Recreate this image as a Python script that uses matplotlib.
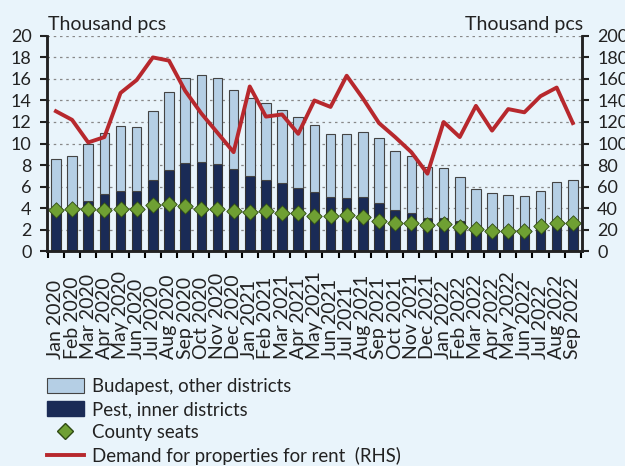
import numpy as np
import matplotlib.pyplot as plt
import matplotlib.transforms as mtransforms
from matplotlib.patches import Patch
from matplotlib.lines import Line2D

plt.rcParams['font.family'] = ['Lato', 'DejaVu Sans']

months = ['Jan 2020', 'Feb 2020', 'Mar 2020', 'Apr 2020', 'May 2020', 'Jun 2020',
          'Jul 2020', 'Aug 2020', 'Sep 2020', 'Oct 2020', 'Nov 2020', 'Dec 2020',
          'Jan 2021', 'Feb 2021', 'Mar 2021', 'Apr 2021', 'May 2021', 'Jun 2021',
          'Jul 2021', 'Aug 2021', 'Sep 2021', 'Oct 2021', 'Nov 2021', 'Dec 2021',
          'Jan 2022', 'Feb 2022', 'Mar 2022', 'Apr 2022', 'May 2022', 'Jun 2022',
          'Jul 2022', 'Aug 2022', 'Sep 2022']

# totals of the stacked bars (thousand pcs)
total = [8.6, 8.8, 10.0, 11.0, 11.6, 11.5, 13.0, 14.8, 16.1, 16.4, 16.1, 15.0,
         14.2, 13.8, 13.1, 12.5, 11.7, 10.9, 10.9, 11.1, 10.5, 9.3, 8.8, 7.8,
         7.7, 6.9, 5.8, 5.4, 5.2, 5.1, 5.6, 6.4, 6.6]
inner = [3.8, 3.9, 4.7, 5.3, 5.6, 5.6, 6.6, 7.5, 8.2, 8.3, 8.1, 7.6,
         7.0, 6.6, 6.3, 5.9, 5.5, 5.0, 4.9, 5.0, 4.5, 3.8, 3.5, 3.1,
         3.1, 2.8, 2.3, 2.0, 1.9, 1.9, 2.2, 2.5, 2.6]
county = [3.8, 3.9, 3.9, 3.8, 3.9, 3.9, 4.3, 4.4, 4.2, 3.9, 3.9, 3.7,
          3.6, 3.7, 3.5, 3.5, 3.3, 3.3, 3.4, 3.2, 2.8, 2.6, 2.6, 2.4,
          2.5, 2.2, 2.1, 1.9, 1.9, 1.9, 2.3, 2.6, 2.6]
demand = [130, 122, 101, 106, 147, 159, 180, 177, 149, 128, 110, 92,
          153, 125, 127, 109, 140, 134, 163, 142, 119, 106, 92, 72,
          120, 106, 135, 112, 132, 129, 144, 152, 119]

bg = '#e9f4fb'
light = '#b5cfe5'
dark = '#1a2b56'
green = '#6fa033'
red = '#b7282d'
txt = '#222222'

other = np.array(total) - np.array(inner)
x = np.arange(len(months))

fig = plt.figure(figsize=(6.25, 4.66), dpi=100, facecolor=bg)
ax = fig.add_axes([0.075, 0.461, 0.856, 0.462], facecolor=bg)
ax2 = ax.twinx()
ax2.patch.set_visible(False)

ax.bar(x, inner, width=0.59, color=dark, edgecolor='#333333', linewidth=0.8, zorder=2)
ax.bar(x, other, bottom=inner, width=0.59, color=light, edgecolor='#444444', linewidth=0.8, zorder=2)
ax.scatter(x, county, marker='D', s=62, color=green, edgecolor='#2f4a14', linewidth=0.6, zorder=4)
ax2.plot(x, demand, color=red, lw=2.8, zorder=5)

ax.set_xlim(-0.56, len(months) - 0.44)
ax.set_ylim(0, 20)
ax2.set_ylim(0, 200)
ax.set_yticks(np.arange(0, 21, 2))
ax2.set_yticks(np.arange(0, 201, 20))
ax.yaxis.grid(True, linestyle=(0, (2, 3)), color='#888888', linewidth=0.9, zorder=0)
ax.set_axisbelow(True)

# month labels: rotated, aligned at their start (bottom)
ax.set_xticks(np.arange(-0.5, len(months), 1))
ax.set_xticklabels([])
ax.tick_params(axis='x', length=5, width=1.5, direction='out')
trans = mtransforms.blended_transform_factory(ax.transData, ax.transAxes)
for i, m in enumerate(months):
    ax.text(i, -0.50, m, rotation=90, ha='center', va='bottom', fontsize=14,
            color=txt, transform=trans)

ax.tick_params(axis='y', labelsize=13, length=5, width=1.5, colors=txt, pad=6)
ax2.tick_params(axis='y', labelsize=13, length=5, width=1.5, colors=txt, pad=6)

for a in (ax, ax2):
    a.spines['top'].set_visible(False)
    for s in ('left', 'right', 'bottom'):
        a.spines[s].set_linewidth(1.8)
        a.spines[s].set_color(txt)

fig.text(0.077, 0.947, 'Thousand pcs', fontsize=14, color=txt, ha='left', va='center')
fig.text(0.933, 0.947, 'Thousand pcs', fontsize=14, color=txt, ha='right', va='center')

handles = [Patch(facecolor=light, edgecolor='#444444', linewidth=0.8),
           Patch(facecolor=dark, edgecolor=dark),
           Line2D([], [], marker='D', color=green, markeredgecolor='#2f4a14', linestyle='none', markersize=8),
           Line2D([], [], color=red, lw=2.8)]
labels = ['Budapest, other districts', 'Pest, inner districts', 'County seats',
          'Demand for properties for rent  (RHS)']
fig.legend(handles, labels, loc='upper left', bbox_to_anchor=(0.075, 0.189), frameon=False,
           fontsize=13.4, handlelength=2.0, handleheight=0.8, labelspacing=0.32,
           borderpad=0, borderaxespad=0, handletextpad=0.45, labelcolor=txt)

fig.savefig('out.png', dpi=100, facecolor=bg)
